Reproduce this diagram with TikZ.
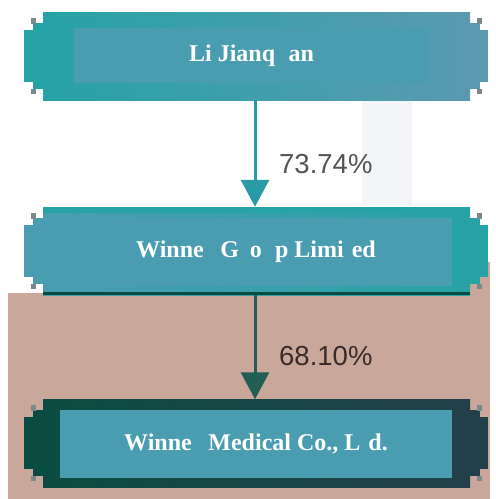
\documentclass[tikz,border=0pt]{standalone}
\usepackage{fontspec}
\setmainfont{Liberation Serif}
\newfontfamily\labelfont{Liberation Sans}
\usetikzlibrary{arrows.meta}
\definecolor{tealA}{HTML}{27A3A5}
\definecolor{steelA}{HTML}{5A9AB1}
\definecolor{innerC}{HTML}{4A9DB0}
\definecolor{darkG}{HTML}{0B4C42}
\definecolor{darkS}{HTML}{23404A}
\definecolor{pinkBG}{HTML}{C9A89B}
\definecolor{labelGray}{HTML}{545454}
\definecolor{labelBrown}{HTML}{3A2A28}
\definecolor{faintBG}{HTML}{F3F5F8}
\definecolor{dotC}{HTML}{7A8A8C}
\definecolor{arrowT}{HTML}{2A9BA6}
\newcommand\sidebits[4]{% top y, left colour, right colour, dot colour
  \fill[#2] (33,#1+11) rectangle (43,#1+18);
  \fill[#2] (24,#1+18) rectangle (43,#1+70);
  \fill[#2] (33,#1+70) rectangle (43,#1+77);
  \fill[#4] (31,#1+6) rectangle (36,#1+12);
  \fill[#4] (31,#1+77) rectangle (36,#1+82);
  \fill[#3] (470,#1+11) rectangle (480,#1+18);
  \fill[#3] (470,#1+18) rectangle (488,#1+70);
  \fill[#3] (470,#1+70) rectangle (480,#1+77);
  \fill[#4] (477,#1+6) rectangle (482,#1+12);
  \fill[#4] (477,#1+77) rectangle (482,#1+82);
}
\tikzset{
  outerbox/.style={rectangle, inner sep=0pt, minimum width=427pt, minimum height=88pt},
  innerbox/.style={rectangle, inner sep=0pt, fill=innerC, text=white,
     font=\bfseries\fontsize{24}{28}\selectfont},
  pct/.style={font=\labelfont\fontsize{27.5}{32}\selectfont, anchor=west, inner sep=0pt},
  link/.style={line width=3pt, -{Triangle[width=28pt,length=27pt]}}
}
\begin{document}
\begin{tikzpicture}[x=1pt,y=-1pt]
\useasboundingbox (0,0) rectangle (496,499);
\fill[white] (0,0) rectangle (496,499);
% faint background band
\fill[faintBG] (362,100) rectangle (412,205);
% pink background region
\fill[pinkBG] (8,293) rectangle (490,499);
\fill[pinkBG] (453,262) rectangle (490,293);

% box 1
\sidebits{12}{tealA}{steelA}{dotC}
\node[outerbox, left color=tealA, right color=steelA] (b1) at (256.5,56) {};
\node[innerbox, minimum width=355pt, minimum height=55pt] (t1) at (251.5,55.5)
  {Li Jianq\phantom{u}an};

% box 2
\sidebits{207}{innerC}{tealA}{dotC}
\node[outerbox, left color=innerC, right color=tealA] (b2) at (256.5,251) {};
\fill[tealA] (b2.north west) rectangle ([yshift=-6pt]b2.north east);
\fill[darkG] ([yshift=3pt]b2.south west) rectangle (b2.south east);
\node[innerbox, minimum width=392pt, minimum height=68pt] (t2) at (256,252)
  {Winne\phantom{r} G\phantom{r}o\phantom{u}p Limi\phantom{t}ed};

% box 3
\sidebits{399}{darkG}{darkS}{dotC}
\node[outerbox, left color=darkG, right color=darkS] (b3) at (256.5,443.5) {};
\node[innerbox, minimum width=392pt, minimum height=68pt] (t3) at (256,444)
  {Winne\phantom{r} Medical Co., L\phantom{t}d.};

% connectors
\draw[link, color=arrowT] (b1.south -| 255,0) -- (b2.north -| 255,0);
\draw[link, color=darkG!90!white] (b2.south -| 255,0) -- (b3.north -| 255,0);
\node[pct, text=labelGray] (p1) at (279,164) {73.74\%};
\node[pct, text=labelBrown] (p2) at (279,356) {68.10\%};
\end{tikzpicture}
\end{document}
